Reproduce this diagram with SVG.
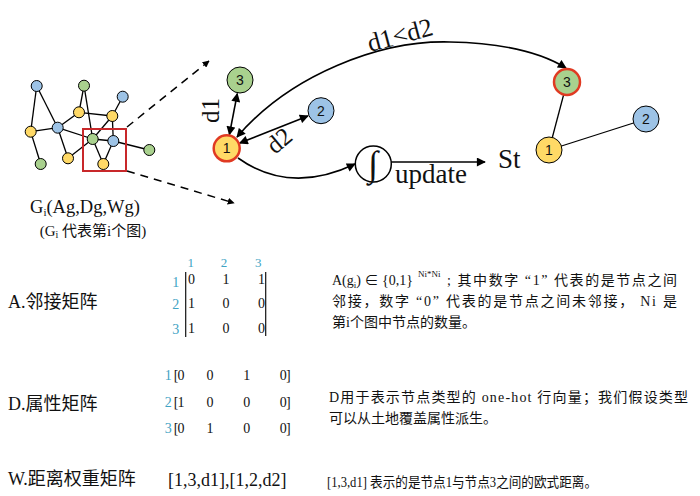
<svg xmlns="http://www.w3.org/2000/svg" width="700" height="496" viewBox="0 0 700 496">
<defs>
<marker id="ah" viewBox="0 0 10 10" refX="9" refY="5" markerWidth="7" markerHeight="7" markerUnits="userSpaceOnUse" orient="auto-start-reverse"><path d="M0,0 L10,5 L0,10 z" fill="#000"/></marker>
<marker id="ahb" viewBox="0 0 10 10" refX="9" refY="5" markerWidth="10" markerHeight="9" markerUnits="userSpaceOnUse" orient="auto-start-reverse"><path d="M0,0 L10,5 L0,10 z" fill="#000"/></marker>
<style>
.y{fill:#FFD966}.gr{fill:#A9D18E}.b{fill:#9DC3E6}
.sn{stroke:#000;stroke-width:1}
.bn{stroke:#000;stroke-width:1}
.hl{stroke:#E03A22;stroke-width:2.5}
.e{stroke:#000;stroke-width:1.3;fill:none}
.c{stroke:#000;stroke-width:1.6;fill:none}
.d{stroke:#000;stroke-width:1.5;fill:none;stroke-dasharray:8 6}
.nl{font-family:"Liberation Sans","Open Sans",sans-serif;font-size:14px;fill:#111;text-anchor:middle}
.s{font-family:"Liberation Serif","Noto Sans CJK SC",serif;fill:#111}
.big{font-size:27px}
.t{fill:#3FA3C4;font-family:"Liberation Serif",serif;font-size:14px;text-anchor:middle}
.th{fill:#3FA3C4;font-family:"Liberation Serif",serif;font-size:13px;text-anchor:middle}
.m{font-family:"Liberation Serif",serif;font-size:14px;fill:#111;text-anchor:middle}
.h{font-size:18px}
.p{font-size:14px}
</style>
</defs>
<rect width="700" height="496" fill="#fff"/>

<g id="connectors">
<g id="mini-edges">
<line class="e" x1="36.7" y1="86" x2="30.7" y2="131.7"/>
<line class="e" x1="36.7" y1="86" x2="57.7" y2="127.7"/>
<line class="e" x1="30.7" y1="131.7" x2="57.7" y2="127.7"/>
<line class="e" x1="30.7" y1="131.7" x2="40.7" y2="164"/>
<line class="e" x1="57.7" y1="127.7" x2="79" y2="112.3"/>
<line class="e" x1="57.7" y1="127.7" x2="92.7" y2="139"/>
<line class="e" x1="57.7" y1="127.7" x2="68" y2="158.3"/>
<line class="e" x1="84" y1="85.7" x2="79" y2="112.3"/>
<line class="e" x1="84" y1="85.7" x2="92.7" y2="139"/>
<line class="e" x1="79" y1="112.3" x2="112.3" y2="116"/>
<line class="e" x1="112.3" y1="116" x2="122.7" y2="96.7"/>
<line class="e" x1="112.3" y1="116" x2="92.7" y2="139"/>
<line class="e" x1="112.3" y1="116" x2="113.3" y2="141"/>
<line class="e" x1="92.7" y1="139" x2="113.3" y2="141"/>
<line class="e" x1="92.7" y1="139" x2="68" y2="158.3"/>
<line class="e" x1="92.7" y1="139" x2="103.3" y2="164"/>
<line class="e" x1="113.3" y1="141" x2="103.3" y2="164"/>
<line class="e" x1="113.3" y1="141" x2="149.3" y2="150"/>
</g>
<line class="d" x1="127" y1="127" x2="209" y2="61" marker-end="url(#ah)"/>
<line class="d" x1="127" y1="171" x2="234" y2="203" marker-end="url(#ah)"/>
<line class="c" x1="229.4" y1="134.6" x2="237.3" y2="93.7" marker-start="url(#ahb)" marker-end="url(#ahb)"/>
<line class="c" x1="239.7" y1="143.1" x2="308" y2="115.9" marker-start="url(#ahb)" marker-end="url(#ahb)"/>
<path class="c" d="M237,137 C290,75 380,40 450,42 C500,43 540,52 566,68" marker-start="url(#ahb)" marker-end="url(#ahb)"/>
<path class="c" d="M238,158 Q290,195 355,164" marker-end="url(#ahb)"/>
<line class="c" x1="391" y1="162" x2="485" y2="162" marker-end="url(#ahb)"/>
<line class="e" x1="549" y1="150" x2="567" y2="82"/>
<line class="e" x1="549" y1="150" x2="646" y2="119"/>
</g>

<g id="mini-graph">
<g id="m-a"><circle class="b sn" cx="36.7" cy="86" r="5.5"/></g>
<g id="m-b"><circle class="gr sn" cx="84" cy="85.7" r="5.5"/></g>
<g id="m-c"><circle class="b sn" cx="122.7" cy="96.7" r="5.5"/></g>
<g id="m-d"><circle class="y sn" cx="79" cy="112.3" r="5.5"/></g>
<g id="m-e"><circle class="y sn" cx="112.3" cy="116" r="5.5"/></g>
<g id="m-f"><circle class="y sn" cx="30.7" cy="131.7" r="5.5"/></g>
<g id="m-g"><circle class="b sn" cx="57.7" cy="127.7" r="5.5"/></g>
<g id="m-h"><circle class="gr sn" cx="92.7" cy="139" r="5.5"/></g>
<g id="m-i"><circle class="b sn" cx="113.3" cy="141" r="5.5"/></g>
<g id="m-j"><circle class="gr sn" cx="149.3" cy="150" r="5.5"/></g>
<g id="m-k"><circle class="y sn" cx="68" cy="158.3" r="5.5"/></g>
<g id="m-l"><circle class="y sn" cx="103.3" cy="164" r="5.5"/></g>
<g id="m-m"><circle class="gr sn" cx="40.7" cy="164" r="5.5"/></g>
<rect x="83" y="129" width="43" height="42" fill="none" stroke="#C8282A" stroke-width="2"/>
</g>

<g id="graph-label">
<text class="s" x="85" y="213" font-size="18.5" text-anchor="middle">G<tspan font-size="11" dy="3">i</tspan><tspan dy="-3">(Ag,Dg,Wg)</tspan></text>
<text class="s" x="93" y="236" font-size="15" text-anchor="middle">(G<tspan font-size="10" dy="2">i</tspan><tspan dy="-2"> 代表第i个图)</tspan></text>
</g>

<g id="node-L1"><circle class="y hl" cx="226.7" cy="148.3" r="13"/><text class="nl" x="226.7" y="153.3">1</text></g>
<g id="node-L3"><circle class="gr bn" cx="240" cy="80" r="13"/><text class="nl" x="240" y="85">3</text></g>
<g id="node-L2"><circle class="b bn" cx="321" cy="110.7" r="13"/><text class="nl" x="321" y="115.7">2</text></g>
<g id="node-int"><circle cx="373.3" cy="164" r="18" fill="#fff" stroke="#000" stroke-width="1.5"/><text class="s" x="373.3" y="176" font-size="36" text-anchor="middle">∫</text></g>
<g id="node-R3"><circle class="gr hl" cx="567" cy="82" r="13"/><text class="nl" x="567" y="87">3</text></g>
<g id="node-R2"><circle class="b bn" cx="646" cy="119" r="13"/><text class="nl" x="646" y="124">2</text></g>
<g id="node-R1"><circle class="y bn" cx="549" cy="150" r="13"/><text class="nl" x="549" y="155">1</text></g>

<g id="labels">
<text class="s" font-size="25" transform="translate(219,123) rotate(-90)">d1</text>
<text class="s" font-size="25" transform="translate(275,155) rotate(-40)">d2</text>
<text class="s" font-size="26" transform="translate(370,52) rotate(-15)">d1&lt;d2</text>
<text class="s big" x="431" y="183" text-anchor="middle">update</text>
<text class="s big" x="498" y="168">St</text>
</g>

<g id="matrix-A">
<text class="s h" x="8" y="308">A.邻接矩阵</text>
<text class="th" x="190.7" y="267">1</text><text class="th" x="224" y="267">2</text><text class="th" x="258.3" y="267">3</text>
<text class="t" x="175.7" y="287">1</text><text class="t" x="175.7" y="308.5">2</text><text class="t" x="175.7" y="333.5">3</text>
<line x1="185.7" y1="272" x2="185.7" y2="337" stroke="#111" stroke-width="1.2"/>
<line x1="265.7" y1="272" x2="265.7" y2="336" stroke="#111" stroke-width="1.2"/>
<text class="m" x="191.5" y="284">0</text><text class="m" x="226" y="284">1</text><text class="m" x="261.5" y="284">1</text>
<text class="m" x="191.5" y="308">1</text><text class="m" x="226" y="308">0</text><text class="m" x="261.5" y="308">0</text>
<text class="m" x="191.5" y="333">1</text><text class="m" x="226" y="333">0</text><text class="m" x="261.5" y="333">0</text>
</g>

<g id="desc-A">
<text class="s p" x="332" y="285">A(g<tspan font-size="9" dy="3">i</tspan><tspan dy="-3">) ∈ {0,1}</tspan></text>
<text class="s" x="418" y="277" font-size="9">Ni*Ni</text>
<text class="s p" x="447" y="285" textLength="230" lengthAdjust="spacing">; 其中数字 “1” 代表的是节点之间</text>
<text class="s p" x="332" y="306" textLength="345" lengthAdjust="spacing">邻接，数字 “0” 代表的是节点之间未邻接， Ni 是</text>
<text class="s p" x="332" y="327">第i个图中节点的数量。</text>
</g>

<g id="matrix-D">
<text class="s h" x="8" y="410">D.属性矩阵</text>
<text class="t" x="168.3" y="380">1</text><text class="t" x="168.3" y="406.5">2</text><text class="t" x="168.3" y="433">3</text>
<text class="m" x="176" y="380">[</text><text class="m" x="181" y="380">0</text><text class="m" x="210" y="380">0</text><text class="m" x="246.7" y="380">1</text><text class="m" x="283.3" y="380">0</text><text class="m" x="288.3" y="380">]</text>
<text class="m" x="176" y="406.5">[</text><text class="m" x="181" y="406.5">1</text><text class="m" x="210" y="406.5">0</text><text class="m" x="246.7" y="406.5">0</text><text class="m" x="283.3" y="406.5">0</text><text class="m" x="288.3" y="406.5">]</text>
<text class="m" x="176" y="433">[</text><text class="m" x="181" y="433">0</text><text class="m" x="210" y="433">1</text><text class="m" x="246.7" y="433">0</text><text class="m" x="283.3" y="433">0</text><text class="m" x="288.3" y="433">]</text>
</g>

<g id="desc-D">
<text class="s p" x="329" y="402" textLength="359" lengthAdjust="spacing">D用于表示节点类型的 one-hot 行向量；我们假设类型</text>
<text class="s p" x="329" y="423">可以从土地覆盖属性派生。</text>
</g>

<g id="matrix-W">
<text class="s h" x="8" y="485">W.距离权重矩阵</text>
<text class="s h" x="168" y="486">[1,3,d1],[1,2,d2]</text>
<text class="s p" x="327" y="487" textLength="270" lengthAdjust="spacingAndGlyphs">[1,3,d1] 表示的是节点1与节点3之间的欧式距离。</text>
</g>
</svg>
